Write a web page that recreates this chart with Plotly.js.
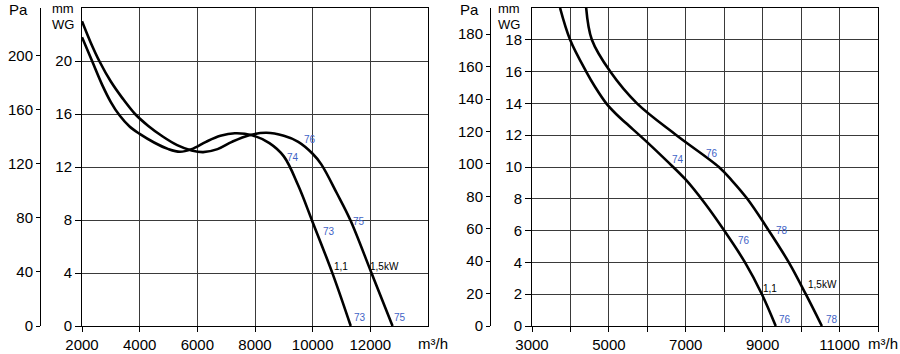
<!DOCTYPE html>
<html>
<head>
<meta charset="utf-8">
<script src="https://cdn.plot.ly/plotly-3.0.1.min.js"></script>
<style>html,body{margin:0;padding:0;background:#fff;}#chart{width:900px;height:354px;}</style>
</head>
<body>
<div id="chart"></div>
<script>
// ---------- DATA ----------
// Left chart: airflow (m3/h) vs static pressure (mm WG)
const left11_x  = [2000, 2350, 2700, 3000, 3300, 3650, 4000, 4500, 5000, 5400, 5800, 6300, 6800, 7300, 7900, 8500, 9000, 9500, 9980, 10700, 11320];
const left11_y  = [21.8, 20.0, 18.2, 16.9, 15.9, 15.05, 14.5, 13.85, 13.35, 13.15, 13.35, 13.9, 14.35, 14.55, 14.4, 13.8, 12.8, 10.6, 7.95, 3.9, 0];
const left15_x  = [2000, 2300, 2600, 3000, 3400, 3840, 4300, 4800, 5300, 5800, 6200, 6700, 7200, 7800, 8400, 9000, 9500, 10000, 10300, 10844, 11306, 12040, 12770];
const left15_y  = [23.0, 21.4, 20.0, 18.45, 17.2, 16.0, 15.1, 14.3, 13.65, 13.25, 13.12, 13.35, 13.9, 14.4, 14.58, 14.35, 13.9, 13.0, 12.2, 10.0, 8.0, 4.0, 0];
// Right chart
const right11_x = [3730, 3991, 4409, 4650, 4931, 5200, 5450, 6000, 6500, 7000, 7500, 8000, 8540, 8980, 9340];
const right11_y = [20, 18, 16, 15.0, 14, 13.3, 12.75, 11.55, 10.4, 9.2, 7.7, 6.0, 4.0, 2.0, 0];
const right15_x = [4409, 4557, 5035, 5730, 6757, 7861, 8200, 8600, 9160, 9680, 10122, 10540];
const right15_y = [20, 18, 16, 14, 12, 10, 9.15, 8, 6, 4, 2, 0];

// Tick labels
const leftXTicks   = [2000, 4000, 6000, 8000, 10000, 12000];
const leftMmTicks  = [0, 4, 8, 12, 16, 20];
const leftPaTicks  = [0, 40, 80, 120, 160, 200];
const rightXTicks  = [3000, 5000, 7000, 9000, 11000];
const rightMmTicks = [0, 2, 4, 6, 8, 10, 12, 14, 16, 18];
const rightPaTicks = [0, 20, 40, 60, 80, 100, 120, 140, 160, 180];

// Curve labels (text)
const leftBlueLabels   = ['76', '74', '75', '73', '73', '75'];
const leftBlackLabels  = ['1,1', '1,5kW'];
const rightBlueLabels  = ['74', '76', '78', '76', '76', '78'];
const rightBlackLabels = ['1,1', '1,5kW'];

// ---------- LAYOUT ----------
const W = 900, H = 354;
const MM2PA = 9.80665;
const FONT = 'Liberation Sans, Arial, sans-serif';
const px = v => v / W;
const py = v => 1 - v / H;
const yDom = [py(326), py(8)];

const leftBluePos   = [[9917, 14.1], [9326, 12.75], [11618, 7.92], [10552, 7.12], [11653, 0.63], [13042, 0.63]];
const leftBlackPos  = [[10983, 4.48], [12500, 4.48]];
const rightBluePos  = [[6791, 10.5], [7688, 10.88], [9496, 6.03], [8513, 5.35], [9583, 0.38], [10793, 0.38]];
const rightBlackPos = [[9191, 2.37], [10558, 2.58]];

const lineStyle = {color: '#000', width: 2.6, shape: 'spline', smoothing: 1};
const traces = [
  {x: left11_x, y: left11_y, xaxis: 'x', yaxis: 'y', mode: 'lines', line: lineStyle, hoverinfo: 'skip'},
  {x: left15_x, y: left15_y, xaxis: 'x', yaxis: 'y', mode: 'lines', line: lineStyle, hoverinfo: 'skip'},
  {x: right11_x, y: right11_y, xaxis: 'x2', yaxis: 'y2', mode: 'lines', line: lineStyle, hoverinfo: 'skip'},
  {x: right15_x, y: right15_y, xaxis: 'x2', yaxis: 'y2', mode: 'lines', line: lineStyle, hoverinfo: 'skip'},
  {x: [], y: [], xaxis: 'x', yaxis: 'y3', mode: 'lines', hoverinfo: 'skip'},
  {x: [], y: [], xaxis: 'x2', yaxis: 'y4', mode: 'lines', hoverinfo: 'skip'}
];

const gridC = '#3a3a3a';
const tickFont = {family: FONT, size: 15, color: '#000'};
function xAx(domain, range, tickvals, anchor, minor) {
  const a = {domain, range, tickvals, ticktext: tickvals.map(String), anchor, showgrid: true, gridcolor: gridC, gridwidth: 1,
    ticks: 'outside', ticklen: 5, tickcolor: '#000', tickwidth: 1, showline: true, linecolor: '#000', linewidth: 1,
    mirror: true, zeroline: false, tickfont: tickFont, fixedrange: true};
  if (minor) a.minor = minor;
  return a;
}
function mmAx(range, tickvals, anchor) {
  return {domain: yDom, range, tickvals, anchor, showgrid: true, gridcolor: gridC, gridwidth: 1,
    ticks: 'outside', ticklen: 6, tickcolor: '#000', tickwidth: 1, showline: true, linecolor: '#000', linewidth: 1,
    mirror: true, zeroline: false, tickfont: tickFont, fixedrange: true};
}
function paAx(range, tickvals, overlay, pos) {
  return {domain: yDom, range, tickvals, overlaying: overlay, anchor: 'free', position: pos, side: 'left',
    showgrid: false, ticks: 'outside', ticklen: 4, tickcolor: '#000', tickwidth: 1, showline: true,
    linecolor: '#000', linewidth: 1, zeroline: false, tickfont: tickFont, fixedrange: true};
}

const annotations = [];
function addLabels(texts, pos, xref, yref, color) {
  texts.forEach((t, i) => annotations.push({text: t, x: pos[i][0], y: pos[i][1], xref, yref,
    showarrow: false, font: {family: FONT, size: 10, color}, xanchor: 'center', yanchor: 'middle'}));
}
addLabels(leftBlueLabels, leftBluePos, 'x', 'y', '#3f63c6');
addLabels(leftBlackLabels, leftBlackPos, 'x', 'y', '#000');
addLabels(rightBlueLabels, rightBluePos, 'x2', 'y2', '#3f63c6');
addLabels(rightBlackLabels, rightBlackPos, 'x2', 'y2', '#000');

function paperText(t, x, y, size) {
  annotations.push({text: t, x: px(x), y: py(y), xref: 'paper', yref: 'paper', showarrow: false,
    font: {family: FONT, size, color: '#000'}, xanchor: 'center', yanchor: 'middle'});
}
paperText('Pa', 18.5, 9, 15);
paperText('mm', 63, 8, 13);
paperText('WG', 63, 25, 13);
paperText('Pa', 469, 9, 15);
paperText('mm', 509, 8, 13);
paperText('WG', 509, 25, 13);
paperText('m³/h', 433, 343, 15);
paperText('m³/h', 883, 343, 15);

const layout = {
  width: W, height: H,
  margin: {l: 0, r: 0, t: 0, b: 0, pad: 0},
  paper_bgcolor: '#fff', plot_bgcolor: '#fff',
  showlegend: false,
  font: {family: FONT, color: '#000'},
  xaxis: xAx([px(82), px(428)], [2000, 14000], leftXTicks, 'y'),
  yaxis: mmAx([0, 24], leftMmTicks, 'x'),
  yaxis3: paAx([0, 24 * MM2PA], leftPaTicks, 'y', px(40)),
  xaxis2: xAx([px(532), px(878)], [3000, 12000], rightXTicks, 'y2',
    {tick0: 3000, dtick: 1000, ticks: 'outside', ticklen: 5, tickcolor: '#000', tickwidth: 1,
     showgrid: true, gridcolor: gridC, gridwidth: 1}),
  yaxis2: mmAx([0, 20], rightMmTicks, 'x2'),
  yaxis4: paAx([0, 20 * MM2PA], rightPaTicks, 'y2', px(490)),
  annotations
};

Plotly.newPlot('chart', traces, layout, {staticPlot: true, displayModeBar: false});
</script>
</body>
</html>
